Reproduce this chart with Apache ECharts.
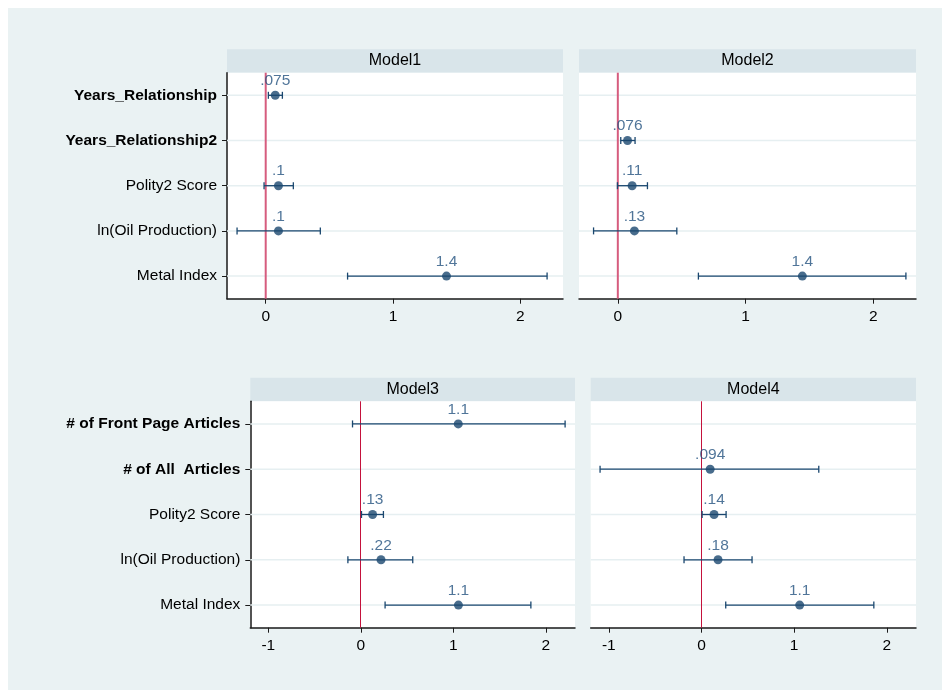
<!DOCTYPE html>
<html>
<head>
<meta charset="utf-8">
<script src="https://cdn.jsdelivr.net/npm/echarts@6/dist/echarts.min.js"></script>
<style>html,body{margin:0;padding:0;background:#fff}#c{width:947px;height:690px}</style>
</head>
<body>
<div id="c"></div>
<script>
// ---------- data ----------
const upperCategories = ['Years_Relationship', 'Years_Relationship2', 'Polity2 Score', 'ln(Oil Production)', 'Metal Index'];
const lowerCategories = ['# of Front Page Articles', '# of All  Articles', 'Polity2 Score', 'ln(Oil Production)', 'Metal Index'];
const boldCategories = ['Years_Relationship', 'Years_Relationship2', '# of Front Page Articles', '# of All  Articles'];
const panelTitles = ['Model1', 'Model2', 'Model3', 'Model4'];

const model1Coef = [0.075, null, 0.1, 0.1, 1.42];
const model1Low  = [0.021, null, -0.013, -0.225, 0.643];
const model1High = [0.131, null, 0.217, 0.429, 2.21];

const model2Coef = [null, 0.076, 0.112, 0.13, 1.445];
const model2Low  = [null, 0.023, -0.003, -0.19, 0.631];
const model2High = [null, 0.135, 0.232, 0.462, 2.256];

const model3Coef = [1.053, null, 0.127, 0.218, 1.055];
const model3Low  = [-0.09, null, 0.007, -0.14, 0.262];
const model3High = [2.208, null, 0.244, 0.561, 1.838];

const model4Coef = [null, 0.094, 0.136, 0.179, 1.06];
const model4Low  = [null, -1.094, 0.007, -0.188, 0.262];
const model4High = [null, 1.266, 0.266, 0.546, 1.86];

const upperTicks = [0, 1, 2];
const lowerTicks = [-1, 0, 1, 2];
const upperRange = [-0.304, 2.335];
const lowerRange = [-1.195, 2.315];
const refValue = 0;

// ---------- layout / style ----------
const FONT = "'Liberation Sans', Arial, sans-serif";
const FS = 15.5;
const NAVY = '#1a476f';
const grids = [
  { left: 227, top: 72.7, width: 336, height: 226 },
  { left: 579, top: 72.7, width: 337, height: 226 },
  { left: 250.3, top: 401.3, width: 324.7, height: 226.4 },
  { left: 590.7, top: 401.3, width: 325.3, height: 226.4 }
];
const headerHeight = 23.5;
const zeroStyles = [
  { stroke: '#d65c7e', lineWidth: 2, snap: false },
  { stroke: '#d65c7e', lineWidth: 2, snap: false },
  { stroke: '#c4123c', lineWidth: 1, snap: true },
  { stroke: '#c4123c', lineWidth: 1, snap: true }
];

const panels = [
  { cats: upperCategories, coef: model1Coef, low: model1Low, high: model1High, ticks: upperTicks, range: upperRange, showY: true },
  { cats: upperCategories, coef: model2Coef, low: model2Low, high: model2High, ticks: upperTicks, range: upperRange, showY: false },
  { cats: lowerCategories, coef: model3Coef, low: model3Low, high: model3High, ticks: lowerTicks, range: lowerRange, showY: true },
  { cats: lowerCategories, coef: model4Coef, low: model4Low, high: model4High, ticks: lowerTicks, range: lowerRange, showY: false }
];

function fmtCoef(v) {
  let s = String(parseFloat(v.toPrecision(2)));
  return s.replace(/^0\./, '.').replace(/^-0\./, '-.');
}

const chart = echarts.init(document.getElementById('c'), null, { renderer: 'canvas' });

const option = {
  animation: false,
  backgroundColor: '#ffffff',
  textStyle: { fontFamily: FONT },
  graphic: [],
  grid: [],
  xAxis: [],
  yAxis: [],
  series: []
};

option.graphic.push({
  type: 'rect', left: 8, top: 8, z: -10,
  shape: { width: 934, height: 682 },
  style: { fill: '#eaf2f3' }
});

panels.forEach((p, gi) => {
  const g = grids[gi];
  option.grid.push({ left: g.left, top: g.top, width: g.width, height: g.height,
    show: true, backgroundColor: '#ffffff', borderWidth: 0 });
  // header strip
  option.graphic.push({
    type: 'rect', left: g.left, top: g.top - headerHeight, z: -5,
    shape: { width: g.width, height: headerHeight },
    style: { fill: '#d9e5ea' }
  });
  option.graphic.push({
    type: 'text', x: g.left + g.width / 2, y: g.top - headerHeight / 2, z: 5,
    style: { text: panelTitles[gi], fill: '#000', font: '16px ' + FONT, align: 'center', verticalAlign: 'middle' }
  });

  option.xAxis.push({
    type: 'value', gridIndex: gi, min: p.range[0], max: p.range[1],
    axisLine: { show: true, onZero: false, lineStyle: { color: '#1a1a1a', width: 1.5 } },
    axisTick: { show: true, length: 5, customValues: p.ticks, lineStyle: { color: '#1a1a1a', width: 1 } },
    axisLabel: { customValues: p.ticks, fontSize: FS, color: '#000', margin: 10, fontFamily: FONT },
    splitLine: { show: false }
  });
  option.yAxis.push({
    type: 'category', gridIndex: gi, data: p.cats, inverse: true,
    axisLine: { show: p.showY, onZero: false, lineStyle: { color: '#1a1a1a', width: 1.5 } },
    axisTick: { show: p.showY, alignWithLabel: true, length: 5, lineStyle: { color: '#1a1a1a', width: 1 } },
    axisLabel: {
      show: p.showY, margin: 10, fontSize: FS, color: '#000', fontFamily: FONT,
      formatter: v => boldCategories.includes(v) ? '{b|' + v + '}' : v,
      rich: { b: { fontWeight: 'bold', fontSize: FS, color: '#000', fontFamily: FONT } }
    },
    splitLine: { show: false }
  });

  // horizontal gridlines at categories
  option.series.push({
    type: 'custom', xAxisIndex: gi, yAxisIndex: gi, silent: true, z: 1,
    data: p.cats.map((c, i) => [p.range[0], i]),
    encode: { x: 0, y: 1 },
    renderItem: (params, api) => {
      const cs = params.coordSys;
      const y = api.coord([api.value(0), api.value(1)])[1];
      return { type: 'line', shape: { x1: cs.x, y1: y, x2: cs.x + cs.width, y2: y },
        style: { stroke: '#e6eff1', lineWidth: 1.5 } };
    }
  });
  // reference line at 0
  option.series.push({
    type: 'custom', xAxisIndex: gi, yAxisIndex: gi, silent: true, z: 2,
    data: [[refValue, 0]],
    encode: { x: 0, y: 1 },
    renderItem: (params, api) => {
      const cs = params.coordSys;
      let x = api.coord([api.value(0), 0])[0];
      const zs = zeroStyles[gi];
      if (zs.snap) x = Math.floor(x) + 0.5;
      return { type: 'line', shape: { x1: x, y1: cs.y, x2: x, y2: cs.y + cs.height },
        style: { stroke: zs.stroke, lineWidth: zs.lineWidth } };
    }
  });
  // confidence intervals
  const ciData = [];
  p.coef.forEach((v, i) => { if (v !== null) ciData.push([p.low[i], p.high[i], i]); });
  option.series.push({
    type: 'custom', xAxisIndex: gi, yAxisIndex: gi, silent: true, z: 3,
    data: ciData,
    encode: { x: [0, 1], y: 2 },
    renderItem: (params, api) => {
      const yi = api.value(2);
      const a = api.coord([api.value(0), yi]);
      const b = api.coord([api.value(1), yi]);
      const h = 3.5;
      const st = { stroke: NAVY, lineWidth: 1.3 };
      return { type: 'group', children: [
        { type: 'line', shape: { x1: a[0], y1: a[1], x2: b[0], y2: b[1] }, style: st },
        { type: 'line', shape: { x1: a[0], y1: a[1] - h, x2: a[0], y2: a[1] + h }, style: st },
        { type: 'line', shape: { x1: b[0], y1: b[1] - h, x2: b[0], y2: b[1] + h }, style: st }
      ] };
    }
  });
  // point estimates
  const ptData = [];
  p.coef.forEach((v, i) => { if (v !== null) ptData.push([v, i]); });
  option.series.push({
    type: 'scatter', xAxisIndex: gi, yAxisIndex: gi, z: 4, silent: true,
    data: ptData, symbol: 'circle', symbolSize: 9,
    itemStyle: { color: NAVY },
    label: { show: true, position: 'top', distance: 2, color: '#24527f', fontSize: FS, fontFamily: FONT,
      formatter: prm => fmtCoef(prm.value[0]) }
  });
});

chart.setOption(option);
</script>
</body>
</html>
